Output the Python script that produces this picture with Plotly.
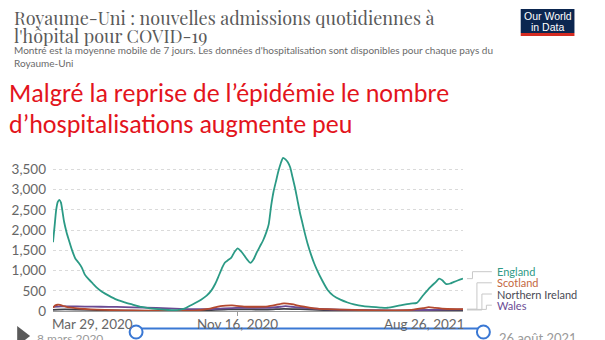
import plotly.graph_objects as go
import pandas as pd

# ---------------- data (days since 2020-03-29, 7-day average admissions) ----------------
start_date = "2020-03-29"
end_day = 515

england_days = [0,2,4,6,8,10,12,14,17,20,24,28,32,36,40,45,50,55,62,70,80,90,100,111,120,132,145,153,160,165,
                172,178,186,193,199,204,208,212,216,220,224,228,232,236,240,244,248,252,256,260,264,268,271,274,
                277,280,283,286,289,292,295,298,301,304,307,310,313,316,320,324,328,332,338,345,352,361,370,378,
                390,400,411,420,436,449,457,465,474,481,485,489,494,499,503,509,515]
england_vals = [1700,2100,2500,2700,2750,2680,2450,2200,1950,1750,1500,1300,1200,1080,900,780,680,580,470,380,
                280,215,160,100,70,45,25,20,35,60,130,190,280,380,510,680,860,1050,1200,1260,1320,1460,1550,1480,
                1380,1270,1190,1280,1450,1600,1750,1950,2150,2600,2950,3200,3450,3650,3790,3750,3680,3550,3300,
                3050,2750,2450,2200,1950,1650,1400,1180,1000,760,520,380,280,210,165,120,100,85,80,140,185,200,
                390,590,720,800,760,665,680,715,760,800]

scotland_days = [0,3,6,9,12,16,20,28,40,55,75,100,130,160,180,195,210,225,240,255,270,280,290,300,311,322,332,
                 345,361,390,420,450,465,472,480,495,515]
scotland_vals = [80,140,155,150,130,110,90,70,50,35,20,12,6,5,15,50,120,140,110,105,115,150,190,170,120,85,60,
                 45,35,20,15,30,70,95,75,50,45]

wales_days = [0,10,20,40,60,80,100,130,160,190,210,230,250,270,285,292,300,315,335,360,400,440,470,490,515]
wales_vals = [100,115,115,110,105,100,90,75,55,45,60,75,75,80,105,120,105,75,50,35,20,15,25,35,40]

ni_days = [0,15,30,60,100,150,190,220,240,270,290,310,340,380,430,470,500,515]
ni_vals = [30,40,35,20,8,3,15,40,40,35,55,45,25,10,5,15,25,25]

y_ticks = [0, 500, 1000, 1500, 2000, 2500, 3000, 3500]
y_ticktext = ["0", "500", "1,000", "1,500", "2,000", "2,500", "3,000", "3,500"]
x_label_dates = ["2020-03-29", "2020-11-16", "2021-08-26"]
x_label_text = ["Mar 29, 2020", "Nov 16, 2020", "Aug 26, 2021"]

series_names = ["England", "Scotland", "Northern Ireland", "Wales"]
line_colors = ["#2b9a85", "#b4492f", "#3f3f48", "#6a4a93"]
label_colors = ["#2f9a86", "#c4683f", "#4a4a55", "#6b4c95"]

# ---------------- layout geometry (pixels) ----------------
W, H = 605, 340
L, R, T, B = 51, 463, 153, 311
Y_MAX = 3908


def px(x):
    return (x - L) / (R - L)


def py(y):
    return (B - y) / (B - T)


def yv(ypix):
    return (B - ypix) / (B - T) * Y_MAX


t0 = pd.Timestamp(start_date)


def to_dates(days):
    return [t0 + pd.Timedelta(days=d) for d in days]


fig = go.Figure()
all_series = [
    (ni_days, ni_vals, 2),
    (wales_days, wales_vals, 3),
    (scotland_days, scotland_vals, 1),
    (england_days, england_vals, 0),
]
for d, v, i in all_series:
    fig.add_trace(go.Scatter(
        x=to_dates(d), y=v, mode="lines",
        line=dict(color=line_colors[i], width=1.8, shape="spline", smoothing=0.6),
        hoverinfo="skip", showlegend=False,
    ))

ann = []
shapes = []


def note(text, x, y, size, color, family, xanchor="left", xshift=0):
    ann.append(dict(text=text, x=px(x), y=py(y), xref="paper", yref="paper",
                    xanchor=xanchor, yanchor="middle", showarrow=False, xshift=xshift,
                    font=dict(family=family, size=size, color=color)))


# title
TITLE_FONT = "Playfair Display, Liberation Serif, serif"
note("Royaume-Uni : nouvelles admissions quotidiennes à", 12, 18, 18, "#5a5a5a", TITLE_FONT, xshift=-2)
note("l'hôpital pour COVID-19", 12, 35.5, 18, "#5a5a5a", TITLE_FONT, xshift=-2)
# subtitle
SUB_FONT = "Lato, sans-serif"
note("Montré est la moyenne mobile de 7 jours. Les données d'hospitalisation sont disponibles pour chaque pays du",
     12, 50, 10, "#6a6a6a", SUB_FONT, xshift=-2)
note("Royaume-Uni", 12, 63, 10, "#6a6a6a", SUB_FONT, xshift=-2)
# red overlay text
RED_FONT = "Carlito, Calibri, Liberation Sans Narrow, Lato, sans-serif"
note("Malgré la reprise de l’épidémie le nombre", 7, 93, 26, "#e3141c", RED_FONT, xshift=-2)
note("d’hospitalisations augmente peu", 7, 124, 26, "#e3141c", RED_FONT, xshift=-2)

# OWID logo
shapes.append(dict(type="rect", xref="paper", yref="paper", x0=px(521), x1=px(575), y0=py(9), y1=py(33),
                   fillcolor="#0b2650", line=dict(width=0)))
shapes.append(dict(type="rect", xref="paper", yref="paper", x0=px(521), x1=px(575), y0=py(33), y1=py(36),
                   fillcolor="#d42b21", line=dict(width=0)))
note("Our World", 548, 15.5, 10.5, "white", "Liberation Sans, Arial, sans-serif", "center")
note("in Data", 548, 27, 10.5, "white", "Liberation Sans, Arial, sans-serif", "center")

# x tick labels
anchors = ["left", "center", "right"]
shifts = [-3, 0, 3]
for dt, txt, a, s in zip(x_label_dates, x_label_text, anchors, shifts):
    ann.append(dict(text=txt, x=dt, xref="x", y=py(323.5), yref="paper", xanchor=a, yanchor="middle",
                    xshift=s, showarrow=False,
                    font=dict(family="Lato, sans-serif", size=13.5, color="#666666")))

# series labels with connectors
label_py = [271.7, 282.8, 294.0, 305.2]
elbow_px = [472.5, 477.0, 482.0, 486.5]
end_vals = [england_vals[-1], scotland_vals[-1], ni_vals[-1], wales_vals[-1]]
for i, name in enumerate(series_names):
    note(name, 496, label_py[i], 11, label_colors[i], "Lato, sans-serif", xshift=-1)
    ylab = yv(label_py[i])
    path = (f"M {px(467)},{end_vals[i]} L {px(elbow_px[i])},{end_vals[i]} "
            f"L {px(elbow_px[i])},{ylab} L {px(492)},{ylab}")
    shapes.append(dict(type="path", xref="paper", yref="y", path=path,
                       line=dict(color="#c8c8c8", width=1)))

# timeline slider remnants at the bottom
shapes.append(dict(type="path", xref="paper", yref="paper",
                   path=f"M {px(15)},{py(326)} L {px(15)},{py(346)} L {px(28)},{py(336)} Z",
                   fillcolor="#5a5a5a", line=dict(width=0)))
note("8 mars 2020", 33, 338, 12, "#9a9a9a", "Lato, sans-serif")
shapes.append(dict(type="line", xref="paper", yref="paper", x0=px(135), x1=px(484), y0=py(328.5), y1=py(328.5),
                   line=dict(color="#3a78d4", width=2)))
for cx in [134.5, 483.5]:
    shapes.append(dict(type="circle", xref="paper", yref="paper", x0=px(cx - 6.5), x1=px(cx + 6.5),
                       y0=py(325.5), y1=py(338.5), fillcolor="white", line=dict(color="#3a78d4", width=2)))
note("26 août 2021", 497, 338, 13, "#9a9a9a", "Lato, sans-serif")

fig.update_layout(
    width=W, height=H,
    margin=dict(l=L, r=W - R, t=T, b=H - B, pad=0),
    paper_bgcolor="white", plot_bgcolor="white",
    annotations=ann, shapes=shapes,
    xaxis=dict(range=[t0, t0 + pd.Timedelta(days=end_day)], showgrid=False, zeroline=False,
               showline=True, linecolor="#9a9a9a", linewidth=1,
               tickvals=[x_label_dates[1]], ticks="outside", ticklen=4, tickcolor="#9a9a9a",
               showticklabels=False, fixedrange=True),
    yaxis=dict(range=[0, Y_MAX], tickvals=y_ticks, ticktext=y_ticktext, showgrid=True,
               gridcolor="#dadada", griddash="dot", gridwidth=1, zeroline=False, showline=False,
               ticks="", ticklabelstandoff=6,
               tickfont=dict(family="Lato, sans-serif", size=13.5, color="#666666"), fixedrange=True),
)

fig.write_html("out.html")
